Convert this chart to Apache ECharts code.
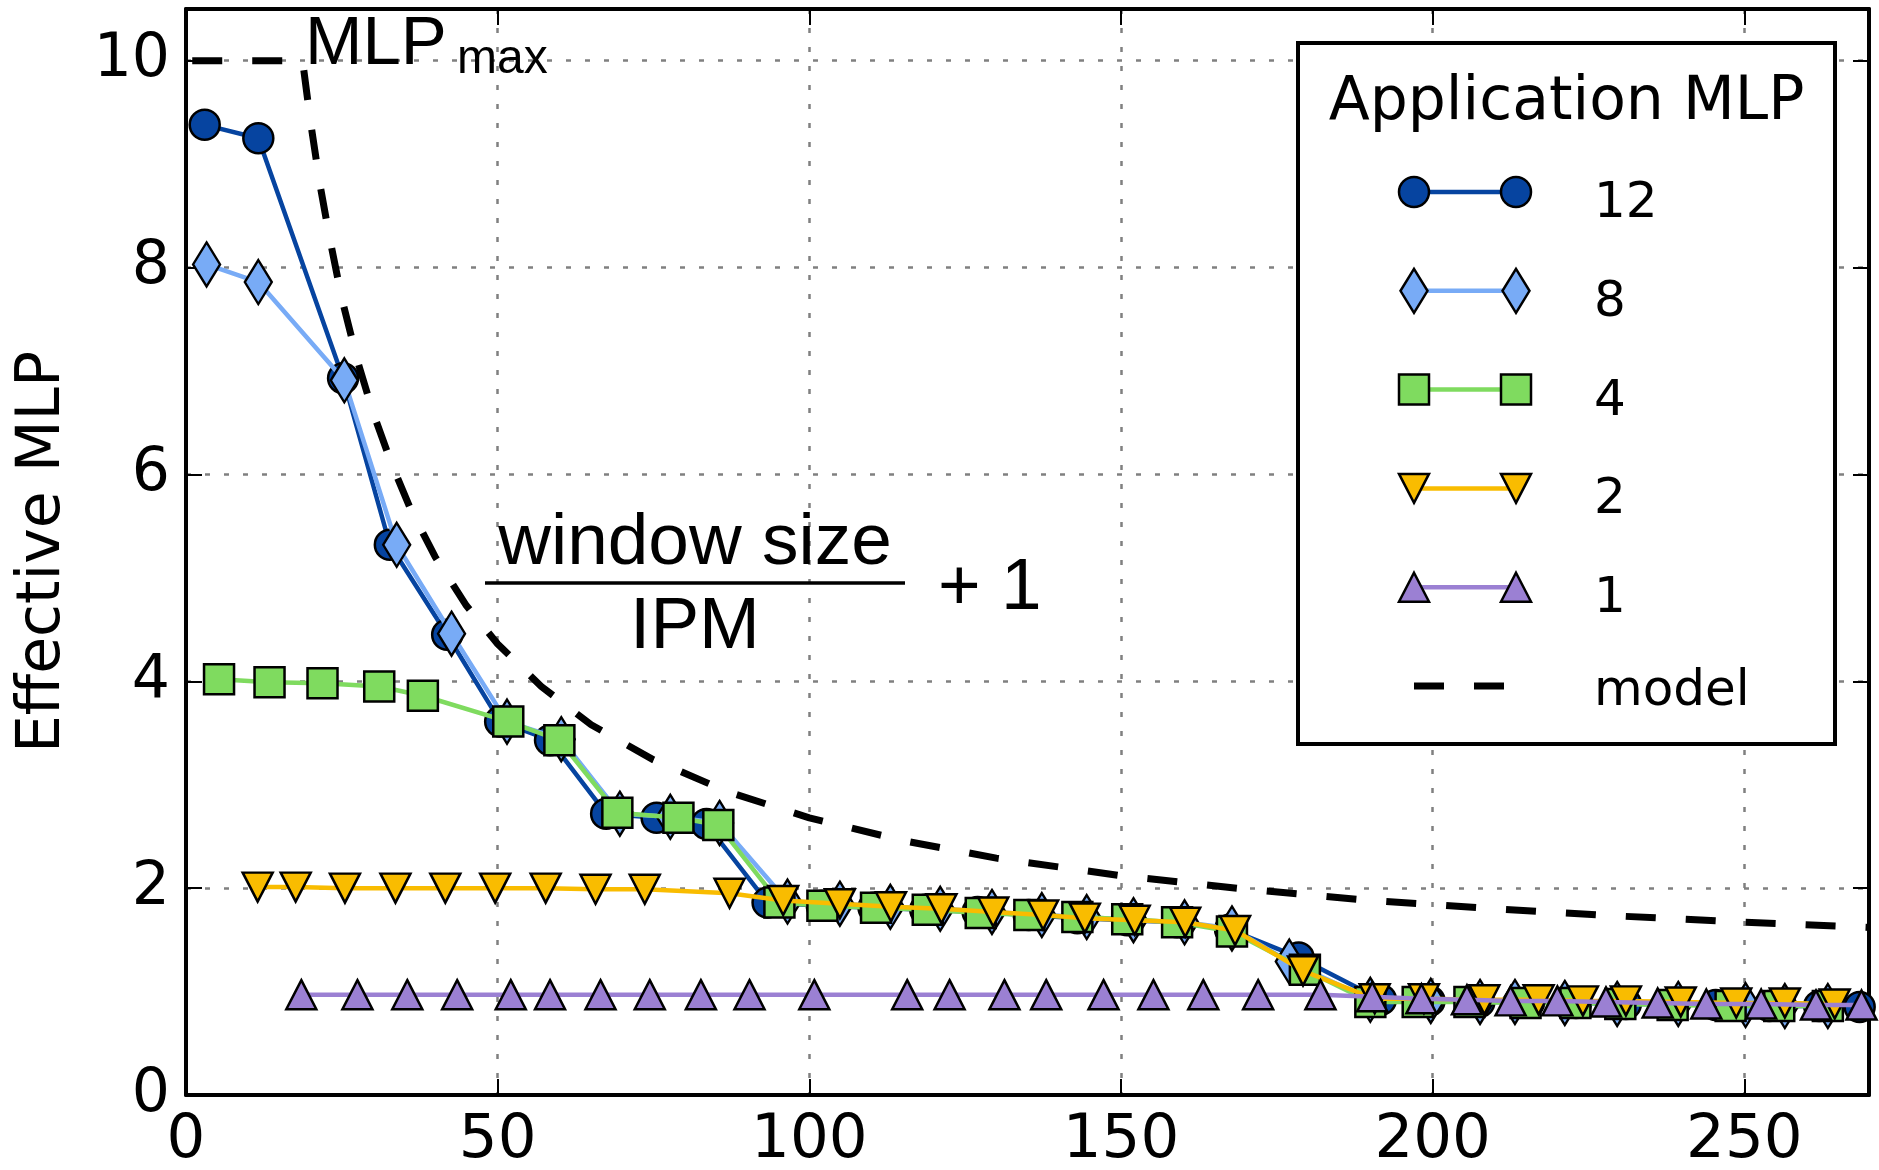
<!DOCTYPE html>
<html><head><meta charset="utf-8">
<script src="https://cdn.jsdelivr.net/npm/echarts@6/dist/echarts.min.js"></script>
<style>html,body{margin:0;padding:0;background:#fff}#c{width:1879px;height:1170px}</style>
</head><body><div id="c"></div>
<script>
// ---------------- data ----------------
const xTicks = [0, 50, 100, 150, 200, 250];
const yTicks = [0, 2, 4, 6, 8, 10];
const legendTitle = 'Application MLP';
const seriesNames = ['12', '8', '4', '2', '1'];
const modelName = 'model';

const mlp12X = [3.0, 11.6, 25.2, 32.7, 41.9, 50.4, 58.4, 67.4, 75.5, 83.5, 93.3, 102.0, 110.3, 118.6, 127.0, 135.2, 143.0, 151.0, 159.0, 167.5, 178.5, 191.7, 199.5, 207.5, 215.5, 223.0, 231.0, 238.5, 245.4, 254.0, 262.0, 268.5];
const mlp12Y = [9.38, 9.25, 6.93, 5.32, 4.45, 3.61, 3.43, 2.72, 2.68, 2.62, 1.86, 1.83, 1.81, 1.79, 1.77, 1.74, 1.71, 1.69, 1.67, 1.60, 1.33, 0.92, 0.91, 0.90, 0.90, 0.89, 0.88, 0.88, 0.87, 0.86, 0.86, 0.85];

const mlp8X = [3.3, 11.6, 25.4, 33.8, 42.6, 51.5, 60.2, 69.6, 77.7, 85.6, 96.5, 104.9, 113.0, 121.0, 129.3, 137.3, 144.5, 152.0, 160.2, 167.8, 177.0, 190.0, 199.7, 207.6, 213.2, 221.2, 229.6, 239.4, 250.2, 256.5, 263.4];
const mlp8Y = [8.03, 7.86, 6.91, 5.32, 4.46, 3.61, 3.44, 2.72, 2.69, 2.63, 1.87, 1.85, 1.82, 1.80, 1.77, 1.74, 1.72, 1.69, 1.67, 1.61, 1.29, 0.92, 0.91, 0.90, 0.90, 0.89, 0.88, 0.88, 0.87, 0.86, 0.86];

const mlp4X = [5.3, 13.4, 21.9, 31.0, 38.0, 51.7, 59.9, 69.2, 79.0, 85.4, 95.2, 102.1, 110.7, 119.0, 127.5, 135.3, 143.0, 151.0, 159.0, 167.8, 179.5, 190.0, 197.6, 205.9, 214.9, 222.9, 230.1, 238.5, 247.8, 255.6, 263.4];
const mlp4Y = [4.02, 3.99, 3.98, 3.95, 3.86, 3.61, 3.43, 2.73, 2.68, 2.61, 1.86, 1.83, 1.81, 1.79, 1.76, 1.74, 1.72, 1.70, 1.67, 1.58, 1.21, 0.90, 0.90, 0.90, 0.89, 0.89, 0.88, 0.87, 0.86, 0.86, 0.86];

const mlp2X = [11.5, 17.6, 25.5, 33.6, 41.6, 49.6, 57.7, 65.7, 73.6, 87.2, 95.8, 104.9, 113.1, 121.2, 129.5, 137.5, 144.2, 152.2, 160.3, 168.3, 179.2, 190.7, 198.6, 208.3, 217.0, 224.1, 231.0, 239.8, 248.7, 256.5, 264.5];
const mlp2Y = [2.01, 2.01, 2.00, 2.00, 2.00, 2.00, 2.00, 1.99, 1.99, 1.95, 1.88, 1.85, 1.82, 1.80, 1.77, 1.74, 1.71, 1.69, 1.67, 1.59, 1.20, 0.93, 0.93, 0.92, 0.92, 0.91, 0.91, 0.90, 0.89, 0.89, 0.88];

const mlp1X = [18.5, 27.5, 35.5, 43.5, 52.1, 58.4, 66.5, 74.4, 82.6, 90.4, 100.8, 115.7, 122.5, 131.3, 138.0, 147.2, 155.2, 163.2, 172.0, 182.0, 190.3, 198.2, 205.5, 212.5, 220.0, 227.8, 236.1, 243.9, 252.7, 261.5, 268.8];
const mlp1Y = [0.97, 0.97, 0.97, 0.97, 0.97, 0.97, 0.97, 0.97, 0.97, 0.97, 0.97, 0.97, 0.97, 0.97, 0.97, 0.97, 0.97, 0.97, 0.97, 0.97, 0.95, 0.93, 0.92, 0.91, 0.91, 0.90, 0.89, 0.88, 0.88, 0.87, 0.87];

const modelX = [1, 18.7, 20, 21.5, 23, 25, 27.5, 30, 33, 36, 40, 45, 50, 57, 65, 75, 87, 100, 115, 130, 150, 170, 190, 210, 230, 250, 270];
const modelY = [10, 10, 9.4, 8.8, 8.3, 7.7, 7.1, 6.6, 6.1, 5.67, 5.2, 4.73, 4.36, 3.95, 3.58, 3.24, 2.93, 2.68, 2.46, 2.29, 2.12, 1.99, 1.88, 1.80, 1.73, 1.67, 1.62];

// ---------------- styles / layout ----------------
const COLORS = ['#0644a0', '#78abf6', '#7fdb5f', '#f9bc00', '#9b80d3'];
const SYMBOLS = ['circle', 'diamond', 'rect', 'triangle', 'triangle'];
const SYMSIZE = [[30, 30], [27, 44], [30, 30], [30, 29], [30, 29]];
const SYMROT = [0, 0, 0, 180, 0];
const XS = [mlp12X, mlp8X, mlp4X, mlp2X, mlp1X];
const YS = [mlp12Y, mlp8Y, mlp4Y, mlp2Y, mlp1Y];
const GRID = {left: 186, right: 10, top: 9, bottom: 75};
const TICK_FONT = 'DejaVu Sans';
const ANN_FONT = 'Liberation Sans';

const chart = echarts.init(document.getElementById('c'), null, {renderer: 'canvas'});

const gridLine = {show: true, lineStyle: {color: '#808080', width: 2.5, type: [5, 14]}};
const spine = {show: true, onZero: false, lineStyle: {color: '#000', width: 4}};
const tick = {show: true, inside: true, length: 16, lineStyle: {color: '#000', width: 2}};

function axisX(pos, labels) {
  return {
    type: 'value', min: 0, max: 270, interval: xTicks[1] - xTicks[0], position: pos,
    axisLine: spine, axisTick: tick,
    axisLabel: {show: labels, fontSize: 61, color: '#000', fontFamily: TICK_FONT, margin: 16,
      showMaxLabel: false, formatter: v => xTicks.includes(v) ? String(v) : ''},
    splitLine: labels ? gridLine : {show: false}
  };
}
function axisY(pos, labels) {
  const a = {
    type: 'value', min: 0, max: 10.5, interval: yTicks[1] - yTicks[0], position: pos,
    axisLine: spine, axisTick: tick,
    axisLabel: {show: labels, fontSize: 60, color: '#000', fontFamily: TICK_FONT, margin: 16,
      showMaxLabel: false, formatter: v => yTicks.includes(v) ? String(v) : ''},
    splitLine: labels ? gridLine : {show: false}
  };
  if (labels) {
    Object.assign(a, {name: 'Effective MLP', nameLocation: 'middle', nameGap: 113, nameRotate: 90,
      nameTextStyle: {fontSize: 60, color: '#000', fontFamily: TICK_FONT}});
  }
  return a;
}

const series = seriesNames.map((nm, i) => ({
  name: nm, type: 'line', xAxisIndex: 0, yAxisIndex: 0, z: 3 + i,
  data: XS[i].map((x, k) => [x, YS[i][k]]),
  symbol: SYMBOLS[i], symbolSize: SYMSIZE[i], symbolRotate: SYMROT[i], showSymbol: true,
  lineStyle: {color: COLORS[i], width: 4.5},
  itemStyle: {color: COLORS[i], borderColor: '#000', borderWidth: 2.5},
  emphasis: {disabled: true}, animation: false, clip: true
}));
series.push({
  name: modelName, type: 'line', xAxisIndex: 0, yAxisIndex: 0, z: 9,
  data: modelX.map((x, k) => [x, modelY[k]]),
  showSymbol: false, symbol: 'none',
  lineStyle: {color: '#000', width: 7, type: [30, 30], cap: 'butt'},
  emphasis: {disabled: true}, animation: false, clip: true
});

// ---------------- legend (drawn as graphics) ----------------
const LEG = {x: 1298, y: 43, w: 537, h: 701, row0: 192, step: 98.8, mx1: 1414, mx2: 1516, tx: 1594};
function marker(i, cx, cy) {
  const st = {fill: COLORS[i], stroke: '#000', lineWidth: 2.5};
  const [w, h] = SYMSIZE[i];
  if (SYMBOLS[i] === 'circle') return {type: 'circle', shape: {cx, cy, r: w / 2}, style: st, z: 20};
  if (SYMBOLS[i] === 'rect') return {type: 'rect', shape: {x: cx - w / 2, y: cy - h / 2, width: w, height: h}, style: st, z: 20};
  if (SYMBOLS[i] === 'diamond') return {type: 'polygon', shape: {points: [[cx, cy - h / 2], [cx + w / 2, cy], [cx, cy + h / 2], [cx - w / 2, cy]]}, style: st, z: 20};
  const pts = SYMROT[i] === 180
    ? [[cx, cy + h / 2], [cx + w / 2, cy - h / 2], [cx - w / 2, cy - h / 2]]
    : [[cx, cy - h / 2], [cx + w / 2, cy + h / 2], [cx - w / 2, cy + h / 2]];
  return {type: 'polygon', shape: {points: pts}, style: st, z: 20};
}
const graphics = [];
graphics.push({type: 'rect', shape: {x: LEG.x, y: LEG.y, width: LEG.w, height: LEG.h},
  style: {fill: '#fff', stroke: '#000', lineWidth: 4}, z: 15});
graphics.push({type: 'text', x: LEG.x + LEG.w / 2, y: 103, z: 20,
  style: {text: legendTitle, font: '60px "DejaVu Sans"', fill: '#000', textAlign: 'center', textVerticalAlign: 'middle'}});
seriesNames.forEach((nm, i) => {
  const cy = LEG.row0 + i * LEG.step;
  graphics.push({type: 'line', shape: {x1: LEG.mx1, y1: cy, x2: LEG.mx2, y2: cy}, style: {stroke: COLORS[i], lineWidth: 4.5}, z: 19});
  graphics.push(marker(i, LEG.mx1, cy));
  graphics.push(marker(i, LEG.mx2, cy));
  graphics.push({type: 'text', x: LEG.tx, y: cy + 12, z: 20,
    style: {text: nm, font: '50px "DejaVu Sans"', fill: '#000', textAlign: 'left', textVerticalAlign: 'middle'}});
});
{
  const cy = LEG.row0 + 5 * LEG.step;
  graphics.push({type: 'line', shape: {x1: LEG.mx1, y1: cy, x2: LEG.mx2, y2: cy},
    style: {stroke: '#000', lineWidth: 7, lineDash: [30, 30]}, z: 19});
  graphics.push({type: 'text', x: LEG.tx, y: cy + 6, z: 20,
    style: {text: modelName, font: '50px "DejaVu Sans"', fill: '#000', textAlign: 'left', textVerticalAlign: 'middle'}});
}

// ---------------- annotations ----------------
graphics.push({type: 'text', x: 305, y: 45, z: 20,
  style: {text: 'MLP', font: '69px "Liberation Sans"', fill: '#000', textAlign: 'left', textVerticalAlign: 'middle'}});
graphics.push({type: 'text', x: 457, y: 60, z: 20,
  style: {text: 'max', font: '48px "Liberation Sans"', fill: '#000', textAlign: 'left', textVerticalAlign: 'middle'}});
graphics.push({type: 'text', x: 695, y: 544, z: 20,
  style: {text: 'window size', font: '73px "Liberation Sans"', fill: '#000', textAlign: 'center', textVerticalAlign: 'middle'}});
graphics.push({type: 'line', shape: {x1: 485, y1: 583, x2: 905, y2: 583}, style: {stroke: '#000', lineWidth: 3.5}, z: 20});
graphics.push({type: 'text', x: 695, y: 628, z: 20,
  style: {text: 'IPM', font: '73px "Liberation Sans"', fill: '#000', textAlign: 'center', textVerticalAlign: 'middle'}});
graphics.push({type: 'text', x: 938, y: 589, z: 20,
  style: {text: '+ 1', font: '73px "Liberation Sans"', fill: '#000', textAlign: 'left', textVerticalAlign: 'middle'}});

chart.setOption({
  animation: false,
  backgroundColor: '#fff',
  grid: Object.assign({containLabel: false, outerBoundsMode: 'none'}, GRID),
  xAxis: [axisX('bottom', true), axisX('top', false)],
  yAxis: [axisY('left', true), axisY('right', false)],
  legend: {show: false},
  tooltip: {show: false},
  series: series,
  graphic: graphics
});
</script>
</body></html>
